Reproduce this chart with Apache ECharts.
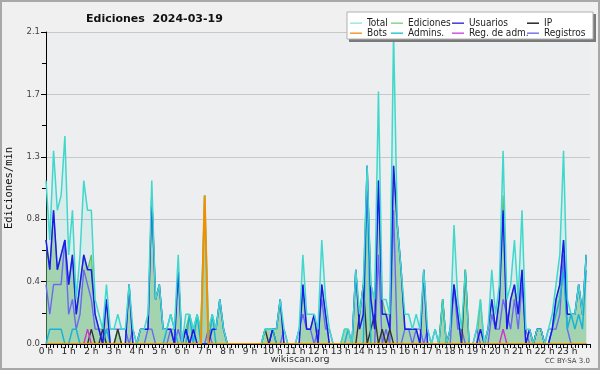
<!DOCTYPE html>
<html><head><meta charset="utf-8">
<script src="https://cdn.jsdelivr.net/npm/echarts@6/dist/echarts.min.js"></script>
<style>html,body{margin:0;padding:0;background:#f0f0f0}#c{width:600px;height:370px}</style>
</head><body><div id="c"></div>
<script>
// 10-minute bins, 144 per day, values in edits per minute
const total = [
1.1,0.7,1.3,0.9,1.0,1.4, 0.6,0.9,0.3,0.6,1.1,0.9, 0.9,0.3,0.2,0.1,0.4,0.1, 0.1,0.2,0.1,0.1,0.4,0.1,
0,0.1,0.1,0.2,1.1,0.3, 0.4,0.1,0.1,0.2,0.1,0.6, 0,0.2,0.2,0.1,0.2,0.1, 1.0,0.1,0.2,0.1,0.3,0.1,
0,0,0,0,0,0, 0,0,0,0,0.1,0.1, 0.1,0.1,0.3,0.1,0,0, 0,0.1,0.6,0.2,0.2,0.2,
0.1,0.7,0.3,0.1,0,0, 0,0.1,0.1,0,0.5,0.2, 0.4,1.2,0.4,0.3,1.7,0.3, 0.3,0.2,2.1,0.8,0.5,0.2,
0.2,0.1,0.2,0.1,0.5,0.1, 0,0.1,0,0.3,0,0.1, 0.8,0.3,0.1,0.5,0,0, 0.1,0.3,0,0.1,0.5,0.2,
0.4,1.3,0.3,0.4,0.7,0.3, 0.9,0.1,0.1,0,0.1,0.1, 0,0.1,0.2,0.4,0.6,1.3, 0.3,0.2,0.2,0.4,0.2,0.6];
const edits = [
0.7,0.5,0.9,0.5,0.6,0.7, 0.4,0.6,0.2,0.4,0.6,0.5, 0.6,0.2,0.1,0.1,0.3,0, 0,0.1,0,0,0.4,0,
0,0.1,0.1,0.1,1.0,0.3, 0.4,0.1,0.1,0.1,0.1,0.5, 0,0.1,0.2,0.1,0.2,0.1, 1.0,0,0.2,0.1,0.3,0.1,
0,0,0,0,0,0, 0,0,0,0,0.1,0.1, 0.1,0.1,0.3,0,0,0, 0,0,0.4,0.1,0.1,0.2,
0,0.4,0.2,0,0,0, 0,0.1,0.1,0,0.5,0.2, 0.4,1.2,0.4,0.3,1.1,0.3, 0.2,0.2,1.2,0.8,0.5,0.1,
0.1,0.1,0.1,0,0.5,0, 0,0,0,0.3,0,0.1, 0.4,0.2,0,0.5,0,0, 0,0.3,0,0.1,0.3,0.1,
0.3,1.0,0.1,0.3,0.4,0.2, 0.5,0,0.1,0,0.1,0.1, 0,0,0.1,0.3,0.4,0.7, 0.2,0.2,0.2,0.4,0.2,0.6];
const users = [
0.7,0.5,0.9,0.5,0.6,0.7, 0.4,0.6,0.2,0.4,0.6,0.5, 0.5,0.2,0.1,0,0.3,0, 0,0,0,0,0.4,0,
0,0.1,0.1,0.1,1.0,0.3, 0.4,0.1,0.1,0.1,0,0.5, 0,0.1,0,0.1,0,0, 0,0,0.1,0.1,0.3,0.1,
0,0,0,0,0,0, 0,0,0,0,0,0, 0.1,0.1,0.3,0,0,0, 0,0,0.4,0.1,0.1,0.2,
0,0.4,0.2,0,0,0, 0,0,0,0,0.5,0.1, 0.2,1.2,0.3,0.1,1.1,0.2, 0.2,0.1,1.2,0.8,0.5,0.1,
0.1,0.1,0.1,0,0.5,0, 0,0,0,0,0,0.1, 0.4,0.2,0,0,0,0, 0,0.1,0,0.1,0.3,0.1,
0.3,0.9,0.1,0.3,0.4,0.2, 0.5,0,0.1,0,0.1,0.1, 0,0,0.1,0.3,0.4,0.7, 0.2,0.2,0.2,0.4,0.2,0.6];
const ip = [
0,0,0,0,0,0, 0,0,0,0,0,0, 0.1,0,0,0.1,0,0, 0,0.1,0,0,0,0,
0,0,0,0,0,0, 0,0,0,0,0,0, 0,0.1,0,0,0,0, 0,0,0,0,0,0,
0,0,0,0,0,0, 0,0,0,0,0.1,0, 0.1,0,0,0,0,0, 0,0,0,0,0,0,
0,0,0,0,0,0, 0,0,0,0,0,0.2, 0.4,0,0.1,0.2,0,0.1, 0,0.1,0,0,0,0,
0,0,0,0,0,0, 0,0,0,0.3,0,0, 0,0,0,0.5,0,0, 0,0,0,0,0,0,
0,0,0,0,0,0, 0,0,0,0,0.1,0.1, 0,0,0,0,0,0, 0,0,0,0,0,0];
const bots = [
0,0,0,0,0,0, 0,0,0,0,0,0, 0,0,0,0,0,0, 0,0,0,0,0,0,
0,0,0,0,0,0, 0,0,0,0,0,0, 0,0,0,0,0,0, 1.0,0,0,0,0,0,
0,0,0,0,0,0, 0,0,0,0,0,0, 0,0,0,0,0,0, 0,0,0,0,0,0,
0,0,0,0,0,0, 0,0,0,0,0,0, 0,0,0,0,0,0, 0,0,0,0,0,0,
0,0,0,0,0,0, 0,0,0,0,0,0, 0,0,0,0,0,0, 0,0,0,0,0,0,
0,0,0,0,0,0, 0,0,0,0,0,0, 0,0,0,0,0,0, 0,0,0,0,0,0];
const admins = [
0,0.1,0.1,0.1,0.1,0, 0,0.1,0.1,0,0,0, 0,0,0,0,0.1,0, 0,0,0,0,0,0,
0,0,0,0,0,0, 0,0,0.1,0.2,0.1,0, 0,0,0.2,0,0.2,0, 0,0,0.2,0,0,0,
0,0,0,0,0,0, 0,0,0,0,0.1,0.1, 0.1,0,0,0,0,0, 0,0,0,0,0,0,
0,0,0,0,0,0, 0,0,0.1,0,0,0, 0,1.1,0,0,0,0, 0,0,0,0,0,0,
0,0,0,0,0,0, 0,0,0,0,0,0, 0,0,0,0,0,0, 0,0,0,0,0,0,
0,0,0,0,0,0, 0,0,0,0,0,0, 0,0,0.1,0.2,0.3,0.5, 0.1,0.2,0.1,0.2,0.1,0.5];
const regadm = [
0,0,0,0,0,0, 0,0,0,0,0,0.1, 0,0,0,0,0,0, 0,0,0,0,0,0,
0,0,0,0,0,0, 0,0,0,0,0,0, 0,0,0,0,0,0, 0,0,0,0,0,0,
0,0,0,0,0,0, 0,0,0,0,0,0, 0,0,0,0,0,0, 0,0,0,0,0,0,
0,0,0,0,0,0, 0,0,0,0,0,0, 0,0,0,0,0,0, 0,0,0,0,0,0,
0,0,0,0,0,0, 0,0,0,0,0,0, 0,0,0,0,0,0, 0,0,0,0,0,0,
0,0.1,0,0,0,0, 0,0,0,0,0,0, 0,0,0,0,0,0, 0,0,0,0,0,0];
const logs = [
0.4,0.2,0.4,0.4,0.4,0.7, 0.2,0.3,0.1,0.2,0.5,0.4, 0.3,0.1,0.1,0,0.1,0.1, 0.1,0.1,0.1,0.1,0,0.1,
0,0,0,0.1,0.1,0, 0,0,0,0.1,0,0.1, 0,0.1,0,0,0,0, 0,0.1,0,0,0,0,
0,0,0,0,0,0, 0,0,0,0,0,0, 0,0,0,0.1,0,0, 0,0.1,0.2,0.1,0.1,0,
0.1,0.3,0.1,0.1,0,0, 0,0,0,0,0,0, 0,0,0,0,0.6,0, 0.1,0,0.9,0,0,0.1,
0.1,0,0.1,0.1,0,0.1, 0,0.1,0,0,0,0, 0.4,0.1,0.1,0,0,0, 0.1,0,0,0,0.2,0.1,
0.1,0.3,0.2,0.1,0.3,0.1, 0.4,0.1,0,0,0,0, 0,0.1,0.1,0.1,0.2,0.6, 0.1,0,0,0,0,0];

const legendNames = ['Total','Ediciones','Usuarios','IP','Bots','Admins.','Reg. de adm.','Registros'];
const yMax = 2.1;
const binsPerHour = 6;

const chart = echarts.init(document.getElementById('c'));
const pts = a => a.map((v, i) => [i, v]);
const lineS = (name, data, color, w, z) => ({
  name, type: 'line', data: pts(data), symbol: 'none', smooth: false,
  lineStyle: { color, width: w }, itemStyle: { color }, z
});
const legendCols = [350, 391, 452, 527];
const legendColors = ['#a8e8e0','#8fd88f','#4848e0','#333333','#f0a040','#40c8d8','#d060e0','#8080e8'];
const legends = legendNames.map((n, k) => ({
  data: [{ name: n, icon: 'rect', itemStyle: { color: legendColors[k] } }],
  left: legendCols[k % 4], top: (k < 4 ? 18.2 : 28.2), z: 80,
  itemWidth: 12, itemHeight: 1.6, padding: 0, selectedMode: false,
  textStyle: { fontFamily: '"DejaVu Sans Condensed", "DejaVu Sans"', fontSize: 10, color: '#222', padding: [0, 0, 0, 0] }
}));

chart.setOption({
  animation: false,
  backgroundColor: '#f0f0f0',
  title: { text: 'Ediciones  2024-03-19', left: 81, top: 9,
    textStyle: { fontFamily: 'DejaVu Sans', fontWeight: 'bold', fontSize: 11, color: '#111' } },
  legend: legends,
  graphic: [
    { type: 'rect', z: -10, shape: { x: 1, y: 1, width: 598, height: 368 },
      style: { fill: '#f0f0f0', stroke: '#a8a8a8', lineWidth: 2 } },
    { type: 'rect', z: 50, shape: { x: 349, y: 14, width: 247, height: 28 }, style: { fill: '#7a7a7a' } },
    { type: 'rect', z: 51, shape: { x: 347, y: 12, width: 246, height: 27 }, style: { fill: '#ffffff', stroke: '#b0b0b0', lineWidth: 1 } },
    { type: 'line', z: 100, shape: { x1: 46, y1: 344.5, x2: 590, y2: 344.5 }, style: { stroke: '#000', lineWidth: 1 } },
    { type: 'text', left: 'center', top: 355, style: { text: 'wikiscan.org', font: '9.5px "DejaVu Sans"', fill: '#333' } },
    { type: 'text', right: 10, top: 358, style: { text: 'CC BY-SA 3.0', font: '7px "DejaVu Sans"', fill: '#444' } }
  ],
  grid: { left: 46, top: 32, width: 544, height: 312, show: true, backgroundColor: '#eceef0', borderWidth: 0,
    containLabel: false, outerBoundsMode: 'none' },
  xAxis: {
    type: 'value', min: 0, max: 144, interval: binsPerHour,
    axisLine: { lineStyle: { color: '#000', width: 1 } },
    axisTick: { length: 4, lineStyle: { color: '#000' } },
    minorTick: { show: true, splitNumber: 6, length: 4, lineStyle: { color: '#000' } },
    splitLine: { show: false },
    axisLabel: { fontFamily: 'DejaVu Sans', fontSize: 9, color: '#222', margin: 3,
      formatter: v => v < 144 ? (v / binsPerHour) + ' h' : '' }
  },
  yAxis: {
    type: 'value', min: 0, max: yMax, interval: 0.42,
    name: 'Ediciones/min', nameLocation: 'middle', nameGap: 31, nameRotate: 90,
    nameTextStyle: { fontFamily: 'DejaVu Sans Mono', fontSize: 10.5, color: '#111' },
    axisLine: { show: true, lineStyle: { color: '#000', width: 1 } },
    axisTick: { show: true, length: 5, lineStyle: { color: '#000' } },
    minorTick: { show: true, splitNumber: 2, length: 4, lineStyle: { color: '#000' } },
    splitLine: { show: true, lineStyle: { color: '#c8c8c8', width: 1 } },
    axisLabel: { fontFamily: 'DejaVu Sans', fontSize: 8.5, color: '#444', margin: 6,
      formatter: v => v.toFixed(1) }
  },
  series: [
    Object.assign(lineS('Total', total, '#40d8cc', 0, 1), { areaStyle: { color: 'rgba(64,216,200,0.15)' } }),
    Object.assign(lineS('Ediciones', edits, '#66bb66', 1.2, 2), { areaStyle: { color: 'rgba(105,185,110,0.68)' } }),
    lineS('Registros', logs, '#6a6af0', 1.4, 3),
    lineS('IP', ip, '#333333', 1.4, 4),
    lineS('Reg. de adm.', regadm, '#cc33cc', 1.4, 4),
    lineS('Admins.', admins, '#18b4d8', 1.5, 5),
    lineS('Usuarios', users, '#1a1aee', 1.5, 6),
    lineS('Total', total, '#40d8cc', 1.5, 8),
    lineS('Bots', bots, '#f09000', 2, 9)
  ]
});
</script></body></html>
